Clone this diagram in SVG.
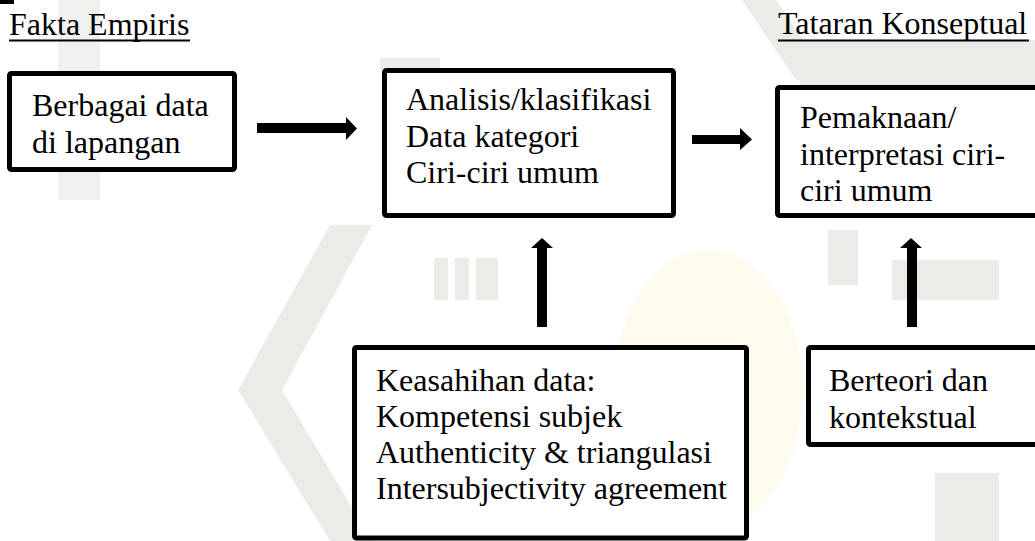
<svg xmlns="http://www.w3.org/2000/svg" width="1035" height="541" viewBox="0 0 1035 541">
<style>
.box{fill:#fff;stroke:#000;stroke-width:5;stroke-linejoin:round}
.t{font-family:"Liberation Serif","Times New Roman",serif;font-size:32px;fill:#000}
.wm{fill:#eaece8}
.ul{stroke:#000;stroke-width:1.8}
</style>
<rect width="1035" height="541" fill="#fff"/>
<g id="watermark">
<polygon class="wm" points="330,225 372,225 282,390 372,541 330,541 238,390"/>
<polygon class="wm" points="742,0 776,0 830,80 796,80"/>
<rect class="wm" x="800" y="40" width="235" height="45"/>
<rect class="wm" x="380" y="58" width="60" height="12"/>
<rect class="wm" x="434" y="258" width="14" height="42"/>
<rect class="wm" x="455" y="258" width="14" height="42"/>
<rect class="wm" x="476" y="258" width="22" height="42"/>
<rect class="wm" x="828" y="230" width="30" height="55"/>
<rect class="wm" x="892" y="260" width="107" height="40"/>
<rect class="wm" x="935" y="473" width="64" height="68"/>
<ellipse cx="708" cy="390" rx="95" ry="140" fill="#fdfbee"/>
<rect x="58" y="0" width="42" height="200" fill="#eef1ee"/>
<rect x="0" y="0" width="14" height="4" fill="#000"/>
</g>
<g id="title-left">
<text class="t" x="9" y="35">Fakta Empiris</text>
<line class="ul" x1="9" y1="40.5" x2="190" y2="40.5"/>
</g>
<g id="title-right">
<text class="t" x="778" y="34">Tataran Konseptual</text>
<line class="ul" x1="778" y1="40.5" x2="1029" y2="40.5"/>
</g>
<g id="connectors" fill="#000">
<polygon points="257,123 346,123 346,117 357,128.5 346,140 346,133 257,133"/>
<polygon points="692,135 740,135 740,128 752,139.5 740,150 740,144 692,144"/>
<polygon points="537,327 537,248 531,248 542,238 553,248 547,248 547,327"/>
<polygon points="907,327 907,248 900,248 911,238 922,248 917,248 917,327"/>
</g>
<g id="node-data">
<rect class="box" x="9.5" y="73.5" width="225" height="96" rx="2"/>
<text class="t" x="32" y="116">Berbagai data</text>
<text class="t" x="32" y="153">di lapangan</text>
</g>
<g id="node-analisis">
<rect class="box" x="384.5" y="70.5" width="289" height="145" rx="2"/>
<text class="t" x="406" y="110">Analisis/klasifikasi</text>
<text class="t" x="406" y="147">Data kategori</text>
<text class="t" x="406" y="183">Ciri-ciri umum</text>
</g>
<g id="node-pemaknaan">
<rect class="box" x="777.5" y="87.5" width="300" height="128" rx="2"/>
<text class="t" x="800" y="128">Pemaknaan/</text>
<text class="t" x="800" y="165">interpretasi ciri-</text>
<text class="t" x="800" y="201">ciri umum</text>
</g>
<g id="node-keasahihan">
<rect class="box" x="354.5" y="347.5" width="392" height="190.5" rx="2"/>
<text class="t" x="376" y="391">Keasahihan data:</text>
<text class="t" x="376" y="427">Kompetensi subjek</text>
<text class="t" x="376" y="463">Authenticity &amp; triangulasi</text>
<text class="t" x="376" y="499">Intersubjectivity agreement</text>
</g>
<g id="node-berteori">
<rect class="box" x="808.5" y="347.5" width="300" height="97" rx="2"/>
<text class="t" x="829" y="391">Berteori dan</text>
<text class="t" x="829" y="428">kontekstual</text>
</g>
</svg>
